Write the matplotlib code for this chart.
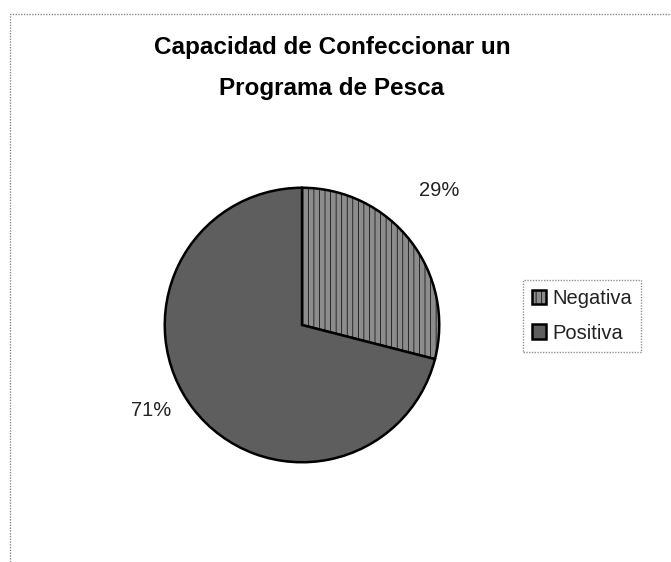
import matplotlib
matplotlib.use("Agg")
import matplotlib.pyplot as plt
from matplotlib.patches import Rectangle

plt.rcParams['font.family'] = ['Liberation Sans', 'DejaVu Sans']
plt.rcParams['hatch.linewidth'] = 0.5

# data
labels = ["Negativa", "Positiva"]
values = [29, 71]
slice_colors = ["#8c8c8c", "#5e5e5e"]
title = "Capacidad de Confeccionar un\nPrograma de Pesca"

W, H = 671, 562
fig = plt.figure(figsize=(W / 100, H / 100), dpi=100)

# dotted frame around the chart area (runs off right/bottom edge)
fig.patches.append(Rectangle((10 / W, -0.05), 1.1, (H - 14) / H + 0.05,
                             transform=fig.transFigure, fill=False,
                             edgecolor="#8a8a8a", linewidth=1.0,
                             linestyle=(0, (1, 1))))

# pie: centre (302, 325) px, radius 140 px
cx, cy, r = 302, 325, 140
ax = fig.add_axes([(cx - r) / W, (H - cy - r) / H, 2 * r / W, 2 * r / H])
wedges, texts, autotexts = ax.pie(
    values, colors=slice_colors, startangle=90, counterclock=False,
    radius=1.0, autopct=lambda p: "{:.0f}%".format(p), pctdistance=1.33,
    wedgeprops=dict(edgecolor="black", linewidth=1.8),
    textprops=dict(fontsize=14.5, color="#222222"))
wedges[0].set_hatch("|||")
ax.set_xlim(-1.02, 1.02)
ax.set_ylim(-1.02, 1.02)
ax.set_aspect("equal")
ax.axis("off")

# nudge labels to where the reference puts them
autotexts[0].set_position((1.0, 0.98))
autotexts[1].set_position((-1.1, -0.62))

fig.text(332 / W, 1 - 68 / H, title, ha="center", va="center",
         fontsize=17.5, fontweight="bold", linespacing=1.95)

leg = fig.legend(wedges, labels, loc="center", bbox_to_anchor=(582 / W, 1 - 316 / H),
                 frameon=True, fancybox=False, fontsize=14.5, handlelength=0.7,
                 handleheight=0.7, handletextpad=0.3, labelspacing=0.75,
                 borderpad=0.45)
leg.get_frame().set_edgecolor("#777777")
leg.get_frame().set_linestyle((0, (1, 1)))
leg.get_frame().set_linewidth(1.0)
for t in leg.get_texts():
    t.set_color("#222222")

fig.savefig("out.png", dpi=100)
